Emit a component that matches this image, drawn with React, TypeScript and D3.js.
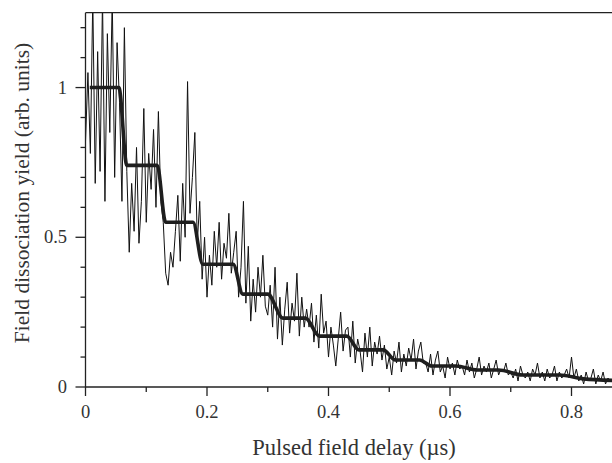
import React from "react";
import * as d3 from "d3";

// ---- Data ----
const delayStep = 0.004; // µs between samples of the measured trace
const measuredYield: number[] = [
  // 0 – 0.064
  0.82, 1.05, 0.78, 1.3, 0.68, 1.12, 0.72, 1.3, 0.62, 1.18, 0.85, 1.3, 0.7, 1.15, 0.95, 0.62, 1.2,
  // 0.068 – 0.12
  0.72, 0.45, 0.68, 0.52, 0.8, 0.48, 0.62, 0.93, 0.55, 0.78, 0.66, 0.86, 0.6, 0.92,
  // 0.124 – 0.18
  0.62, 0.55, 0.38, 0.34, 0.45, 0.4, 0.52, 0.64, 0.42, 0.68, 0.5, 1.02, 0.58, 0.7, 0.85,
  // 0.184 – 0.24
  0.48, 0.62, 0.36, 0.5, 0.3, 0.44, 0.34, 0.52, 0.4, 0.55, 0.36, 0.48, 0.43, 0.58, 0.38,
  // 0.244 – 0.30
  0.45, 0.52, 0.3, 0.4, 0.62, 0.28, 0.47, 0.22, 0.36, 0.25, 0.4, 0.3, 0.44, 0.27, 0.24,
  // 0.304 – 0.36
  0.34, 0.2, 0.4, 0.16, 0.3, 0.14, 0.26, 0.35, 0.18, 0.28, 0.22, 0.38, 0.17, 0.3, 0.2,
  // 0.364 – 0.43
  0.26, 0.2, 0.28, 0.15, 0.24, 0.13, 0.31, 0.18, 0.22, 0.1, 0.2, 0.14, 0.07, 0.16, 0.25, 0.12, 0.19,
  // 0.434 – 0.49
  0.2, 0.1, 0.22, 0.08, 0.16, 0.12, 0.05, 0.18, 0.1, 0.2, 0.07, 0.15, 0.11, 0.17, 0.09,
  // 0.494 – 0.56
  0.14, 0.06, 0.1, 0.04, 0.12, 0.08, 0.15, 0.05, 0.11, 0.07, 0.13, 0.09, 0.16, 0.06, 0.12, 0.15, 0.08,
  // 0.564 – 0.62
  0.08, 0.05, 0.11, 0.04, 0.09, 0.12, 0.05, 0.07, 0.03, 0.1, 0.06, 0.08, 0.04, 0.09, 0.06,
  // 0.624 – 0.70
  0.07, 0.04, 0.09, 0.05, 0.08, 0.03, 0.06, 0.1, 0.04, 0.07, 0.05, 0.08, 0.03, 0.06, 0.09, 0.04, 0.06, 0.05, 0.08, 0.04,
  // 0.704 – 0.80
  0.05, 0.03, 0.06, 0.02, 0.07, 0.04, 0.03, 0.05, 0.02, 0.06, 0.04, 0.08, 0.03, 0.05, 0.02, 0.06, 0.03, 0.04, 0.07, 0.02, 0.05, 0.03, 0.04, 0.06, 0.03,
  // 0.804 – 0.868
  0.1, 0.03, 0.06, 0.02, 0.04, 0.01, 0.05, 0.02, 0.03, 0.06, 0.01, 0.04, 0.02, 0.05, 0.01, 0.03, 0.02,
];

const stepDelay: number[] = [
  0.007, 0.055, 0.068, 0.118, 0.132, 0.177, 0.193, 0.243, 0.259, 0.3, 0.325, 0.362,
  0.385, 0.43, 0.45, 0.49, 0.51, 0.55, 0.57, 0.61, 0.645, 0.68, 0.72, 0.78, 0.82, 0.87,
];
const stepYield: number[] = [
  1, 1, 0.74, 0.74, 0.55, 0.55, 0.41, 0.41, 0.31, 0.31, 0.23, 0.23,
  0.17, 0.17, 0.124, 0.124, 0.09, 0.09, 0.07, 0.07, 0.057, 0.057, 0.04, 0.04, 0.027, 0.022,
];

const xMajorTicks = [0, 0.2, 0.4, 0.6, 0.8];
const xTickLabels = ["0", "0.2", "0.4", "0.6", "0.8"];
const xMinorTicks = [0.1, 0.3, 0.5, 0.7];
const yMajorTicks = [0, 0.5, 1];
const yTickLabels = ["0", "0.5", "1"];
const yMinorTicks = [0.1, 0.2, 0.3, 0.4, 0.6, 0.7, 0.8, 0.9, 1.1, 1.2];

const xTitle = "Pulsed field delay (µs)";
const yTitle = "Field dissociation yield (arb. units)";

export default function App() {
  const W = 612, H = 463;
  const left = 85.5, right = 612, top = 12.7, bottom = 387;
  const x = d3.scaleLinear().domain([0, 0.2]).range([left, left + 121.5]);
  const y = d3.scaleLinear().domain([0, 1.25]).range([bottom, top]);

  const noisePts: [number, number][] = measuredYield.map((v, i) => [i * delayStep, v]);
  const stepPts: [number, number][] = stepDelay.map((t, i) => [t, stepYield[i]]);

  const noiseLine = d3.line<[number, number]>().x(d => x(d[0])).y(d => y(d[1]));
  const stepLine = d3
    .line<[number, number]>()
    .x(d => x(d[0]))
    .y(d => y(d[1]))
    .curve(d3.curveMonotoneX);

  const font = "'Liberation Serif', 'Times New Roman', serif";
  const axisColor = "#222";
  const textColor = "#333";

  return (
    <svg
      width={W}
      height={H}
      style={{ position: "absolute", left: 0, top: 0, background: "#fff" }}
    >
      <defs>
        <clipPath id="plotClip">
          <rect x={left} y={top} width={right - left} height={bottom - top} />
        </clipPath>
      </defs>
      <g clipPath="url(#plotClip)">
        <path d={noiseLine(noisePts) || ""} fill="none" stroke="#111" strokeWidth={1} strokeLinejoin="round" />
        <path d={stepLine(stepPts) || ""} fill="none" stroke="#1e1e1e" strokeWidth={3.6} strokeLinejoin="round" />
      </g>

      {/* frame */}
      <line x1={left} x2={right} y1={top} y2={top} stroke={axisColor} strokeWidth={1.3} />
      <line x1={left} x2={left} y1={top} y2={bottom} stroke={axisColor} strokeWidth={1.3} />
      <line x1={left} x2={right} y1={bottom} y2={bottom} stroke={axisColor} strokeWidth={1.3} />

      {/* x ticks */}
      {xMajorTicks.map(t => (
        <line key={"xM" + t} x1={x(t)} x2={x(t)} y1={bottom} y2={bottom + 9} stroke={axisColor} strokeWidth={1.3} />
      ))}
      {xMinorTicks.map(t => (
        <line key={"xm" + t} x1={x(t)} x2={x(t)} y1={bottom} y2={bottom + 5} stroke={axisColor} strokeWidth={1.3} />
      ))}
      {xMajorTicks.map((t, i) => (
        <text key={"xl" + t} x={x(t)} y={418} textAnchor="middle" fontFamily={font} fontSize={18.5} fill={textColor}>
          {xTickLabels[i]}
        </text>
      ))}

      {/* y ticks */}
      {yMajorTicks.map(t => (
        <line key={"yM" + t} x1={left - 10} x2={left} y1={y(t)} y2={y(t)} stroke={axisColor} strokeWidth={1.3} />
      ))}
      {yMinorTicks.map(t => (
        <line key={"ym" + t} x1={left - 5} x2={left} y1={y(t)} y2={y(t)} stroke={axisColor} strokeWidth={1.3} />
      ))}
      {yMajorTicks.map((t, i) => (
        <text key={"yl" + t} x={67} y={y(t) + 6} textAnchor="end" fontFamily={font} fontSize={18.5} fill={textColor}>
          {yTickLabels[i]}
        </text>
      ))}

      {/* titles */}
      <text x={354} y={455} textAnchor="middle" fontFamily={font} fontSize={22.5} fill={textColor}>
        {xTitle}
      </text>
      <text
        transform={`translate(29, 193) rotate(-90)`}
        textAnchor="middle"
        fontFamily={font}
        fontSize={21.5}
        fill={textColor}
      >
        {yTitle}
      </text>
    </svg>
  );
}
